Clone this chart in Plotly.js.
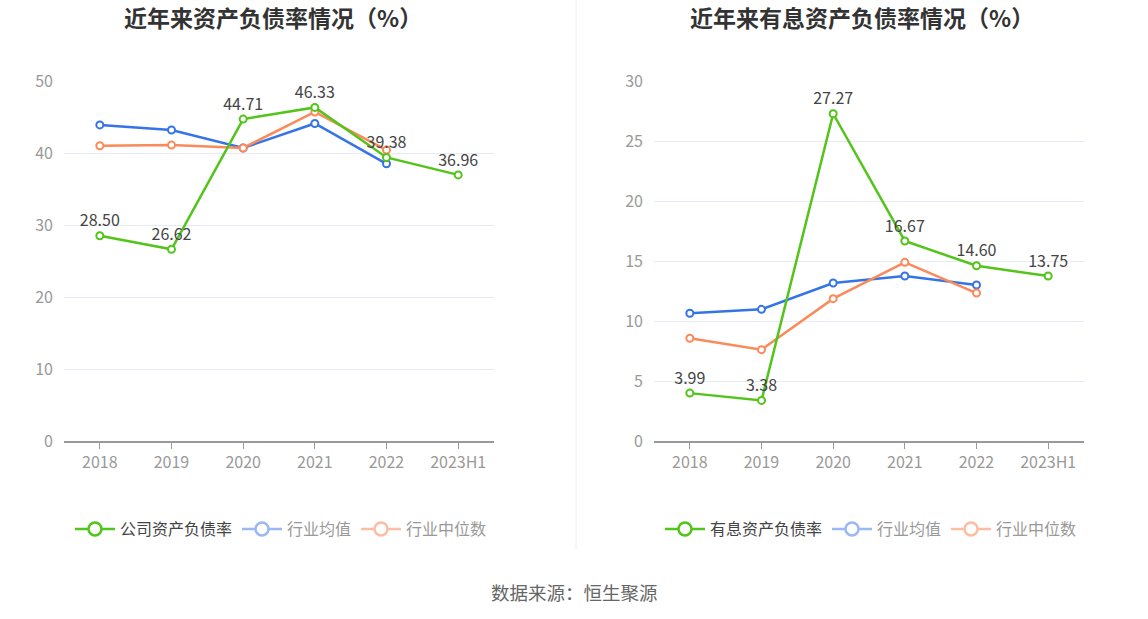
<!DOCTYPE html>
<html><head><meta charset="utf-8">
<script src="https://cdn.plot.ly/plotly-3.0.1.min.js"></script>
<style>html,body{margin:0;padding:0;background:#fff}#chart{width:1148px;height:619px}</style>
</head><body><div id="chart"></div>
<script>
const categories = ['2018','2019','2020','2021','2022','2023H1'];
const companyDebt = [28.50, 26.62, 44.71, 46.33, 39.38, 36.96];
const industryAvgDebt = [43.9, 43.2, 40.7, 44.1, 38.5];
const industryMedDebt = [41.0, 41.1, 40.7, 45.7, 40.4];
const interestDebt = [3.99, 3.38, 27.27, 16.67, 14.60, 13.75];
const industryAvgInterest = [10.65, 10.97, 13.17, 13.75, 13.0];
const industryMedInterest = [8.56, 7.61, 11.86, 14.89, 12.33];

const GREEN='#52c41a', BLUE='#3574e8', ORANGE='#fa8a5a';
const FONT='"Noto Sans CJK SC", "Noto Sans", sans-serif';
const W=1148,H=619;
const px=v=>v/W, py=v=>(H-v)/H;

function series(x,y,color,xa,ya,labels){
  return {x:x,y:y,xaxis:xa,yaxis:ya,type:'scatter',mode:labels?'lines+markers+text':'lines+markers',
    line:{color:color,width:2.5},marker:{symbol:'circle',size:7,color:'#fff',line:{color:color,width:2}},
    text:labels?y.map(v=>v.toFixed(2)):undefined,textposition:'top center',
    textfont:{size:16,color:'#444',family:FONT},cliponaxis:false,showlegend:false,hoverinfo:'x+y'};
}
function legendItem(name,color,textColor,legend){
  return {x:[null],y:[null],type:'scatter',mode:'lines+markers',name:'<span style="color:'+textColor+'">'+name+'</span>',
    legend:legend,line:{color:color,width:2.5},marker:{symbol:'circle',size:13,color:'#fff',line:{color:color,width:2.5}},
    xaxis:legend==='legend'?'x':'x2',yaxis:legend==='legend'?'y':'y2',showlegend:true};
}
const n5=categories.slice(0,5);
const data=[
  series(n5,industryAvgDebt,BLUE,'x','y',false),
  series(n5,industryMedDebt,ORANGE,'x','y',false),
  series(categories,companyDebt,GREEN,'x','y',true),
  series(n5,industryAvgInterest,BLUE,'x2','y2',false),
  series(n5,industryMedInterest,ORANGE,'x2','y2',false),
  series(categories,interestDebt,GREEN,'x2','y2',true),
  legendItem('公司资产负债率',GREEN,'#444','legend'),
  legendItem('行业均值','#9ab8f3','#999','legend'),
  legendItem('行业中位数','#fcbea3','#999','legend'),
  legendItem('有息资产负债率',GREEN,'#444','legend2'),
  legendItem('行业均值','#9ab8f3','#999','legend2'),
  legendItem('行业中位数','#fcbea3','#999','legend2')
];
const xcommon={type:'category',showline:true,linecolor:'#999',linewidth:1.5,ticks:'outside',ticklen:6,tickcolor:'#999',
  tickfont:{size:16,color:'#999',family:FONT},showgrid:false,zeroline:false,range:[-0.5,5.5],fixedrange:true};
const ycommon={showline:false,gridcolor:'#e6eaf4',gridwidth:1,zeroline:false,tickfont:{size:16,color:'#999',family:FONT},
  ticklabelstandoff:10,fixedrange:true};
const legcommon={orientation:'h',yanchor:'middle',xanchor:'left',y:py(529),font:{size:16,family:FONT,color:'#444'},
  itemwidth:40,tracegroupgap:0,bgcolor:'rgba(0,0,0,0)'};
const layout={width:W,height:H,margin:{l:0,r:0,t:0,b:0},paper_bgcolor:'#fff',plot_bgcolor:'#fff',
  font:{family:FONT},
  xaxis:Object.assign({},xcommon,{domain:[px(64),px(494)],anchor:'y'}),
  yaxis:Object.assign({},ycommon,{domain:[py(441),py(81)],range:[0,50],dtick:10,anchor:'x'}),
  xaxis2:Object.assign({},xcommon,{domain:[px(654),px(1084)],anchor:'y2'}),
  yaxis2:Object.assign({},ycommon,{domain:[py(441),py(81)],range:[0,30],dtick:5,anchor:'x2'}),
  legend:Object.assign({},legcommon,{x:px(70)}),
  legend2:Object.assign({},legcommon,{x:px(660)}),
  shapes:[{type:'line',xref:'paper',yref:'paper',x0:px(576),x1:px(576),y0:py(550),y1:1,line:{color:'#eeeeee',width:1}}],
  annotations:[
    {text:'<b>近年来资产负债率情况（%）</b>',xref:'paper',yref:'paper',x:px(273),y:py(17),xanchor:'center',yanchor:'middle',showarrow:false,font:{size:23,color:'#333',family:FONT}},
    {text:'<b>近年来有息资产负债率情况（%）</b>',xref:'paper',yref:'paper',x:px(862),y:py(17),xanchor:'center',yanchor:'middle',showarrow:false,font:{size:23,color:'#333',family:FONT}},
    {text:'数据来源：恒生聚源',xref:'paper',yref:'paper',x:px(574),y:py(592),xanchor:'center',yanchor:'middle',showarrow:false,font:{size:18.5,color:'#666',family:FONT}}
  ]
};
Plotly.newPlot('chart',data,layout,{displayModeBar:false,staticPlot:true});
</script></body></html>
